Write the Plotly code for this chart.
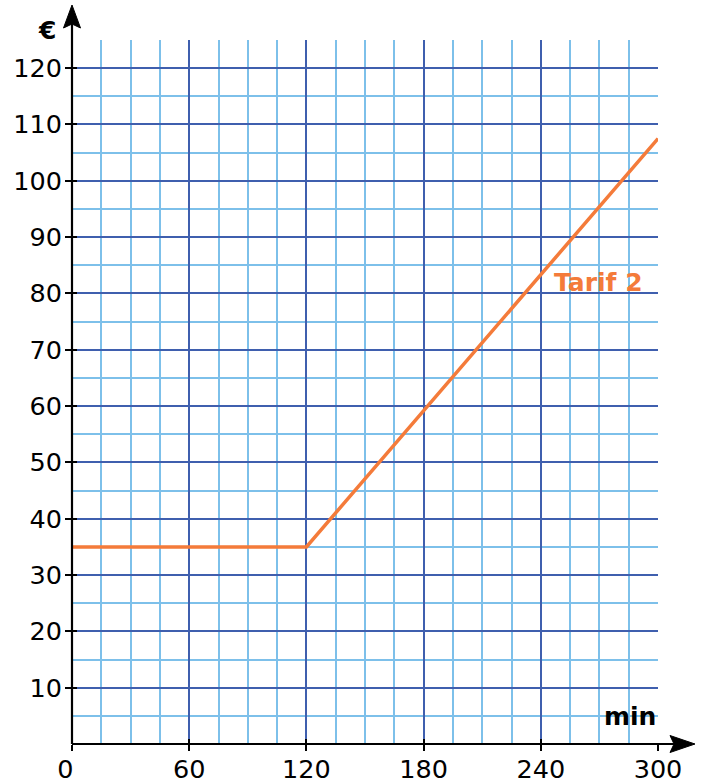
import plotly.graph_objects as go

# Tariff 2: price in euros as a function of minutes used
minutes = [0, 120, 300]
price = [35, 35, 107.5]

x_ticks = [0, 60, 120, 180, 240, 300]
x_labels = ["0\u00a0\u2009", "60", "120", "180", "240", "300"]
y_ticks = [10, 20, 30, 40, 50, 60, 70, 80, 90, 100, 110, 120]
y_labels = [str(v) for v in y_ticks]

W, H = 702, 783
ML, MR, MT, MB = 72, 44, 40, 39
PW, PH = W - ML - MR, H - MT - MB

ORANGE = "#f47b3a"
DARK = "#3f5fae"
LIGHT = "#7dc0ea"
FONT = "DejaVu Sans"
TICK_SIZE = 25.5
TEXT_SIZE = 25


def px_x(px):
    return (px - ML) / PW


def px_y(py):
    return (H - MB - py) / PH


fig = go.Figure()
fig.add_trace(go.Scatter(
    x=minutes, y=price, mode="lines",
    line=dict(color=ORANGE, width=3.5), hoverinfo="skip", showlegend=False,
    cliponaxis=False,
))

axis_common = dict(
    showline=False, zeroline=False, automargin=False,
    gridcolor=DARK, gridwidth=2,
    tickfont=dict(family=FONT, size=TICK_SIZE, color="black"),
)

fig.update_layout(
    width=W, height=H,
    margin=dict(l=ML, r=MR, t=MT, b=MB, pad=0, autoexpand=False),
    paper_bgcolor="white", plot_bgcolor="white",
    showlegend=False,
    xaxis=dict(
        range=[0, 300], tickvals=x_ticks, ticktext=x_labels,
        ticks="outside", ticklen=6, tickwidth=2, tickcolor="black",
        ticklabelstandoff=-4,
        minor=dict(dtick=15, tick0=0, showgrid=True, gridcolor=LIGHT, gridwidth=2),
        **axis_common,
    ),
    yaxis=dict(
        range=[0, 125], tickvals=y_ticks, ticktext=y_labels,
        ticks="outside", ticklen=6, tickwidth=2, tickcolor="black",
        ticklabelstandoff=-2,
        minor=dict(dtick=5, tick0=0, showgrid=True, gridcolor=LIGHT, gridwidth=2),
        **axis_common,
    ),
    # inner halves of the tick marks
    xaxis2=dict(range=[0, 300], overlaying="x", tickvals=x_ticks, showticklabels=False,
                ticks="inside", ticklen=5, tickwidth=2, tickcolor="black",
                showgrid=False, zeroline=False, showline=False, automargin=False),
    yaxis2=dict(range=[0, 125], overlaying="y", tickvals=y_ticks, showticklabels=False,
                ticks="inside", ticklen=5, tickwidth=2, tickcolor="black",
                showgrid=False, zeroline=False, showline=False, automargin=False),
)
fig.add_trace(go.Scatter(x=[None], y=[None], xaxis="x2", yaxis="y2",
                         showlegend=False, hoverinfo="skip"))

# axis lines with arrowheads
x0p, y0p = px_x(ML), px_y(H - MB)
fig.add_shape(type="line", xref="paper", yref="paper",
              x0=x0p, y0=y0p, x1=px_x(675), y1=y0p,
              line=dict(color="black", width=2.2), layer="above")
fig.add_shape(type="line", xref="paper", yref="paper",
              x0=x0p, y0=y0p, x1=x0p, y1=px_y(24),
              line=dict(color="black", width=2.2), layer="above")

ay = H - MB
fig.add_shape(type="path", xref="paper", yref="paper", layer="above",
              path=f"M {px_x(695)},{px_y(ay)} L {px_x(670)},{px_y(ay - 8.5)} "
                   f"L {px_x(674)},{px_y(ay)} L {px_x(670)},{px_y(ay + 8.5)} Z",
              fillcolor="black", line=dict(color="black", width=1))
fig.add_shape(type="path", xref="paper", yref="paper", layer="above",
              path=f"M {px_x(ML)},{px_y(5)} L {px_x(ML - 8.5)},{px_y(28)} "
                   f"L {px_x(ML)},{px_y(24)} L {px_x(ML + 8.5)},{px_y(28)} Z",
              fillcolor="black", line=dict(color="black", width=1))

fig.add_annotation(text="<b>€</b>", xref="paper", yref="paper",
                   x=px_x(47), y=px_y(30), xanchor="center", yanchor="middle",
                   showarrow=False,
                   font=dict(family=FONT, size=TEXT_SIZE, color="black"))
fig.add_annotation(text="<b>min</b>", x=300, y=4.9, xanchor="right", yanchor="middle",
                   showarrow=False, font=dict(family=FONT, size=TEXT_SIZE, color="black"))
fig.add_annotation(text="<b>Tarif 2</b>", x=269.3, y=81.9, xanchor="center",
                   yanchor="middle", showarrow=False,
                   font=dict(family=FONT, size=TEXT_SIZE, color=ORANGE))

fig.write_html("out.html")
